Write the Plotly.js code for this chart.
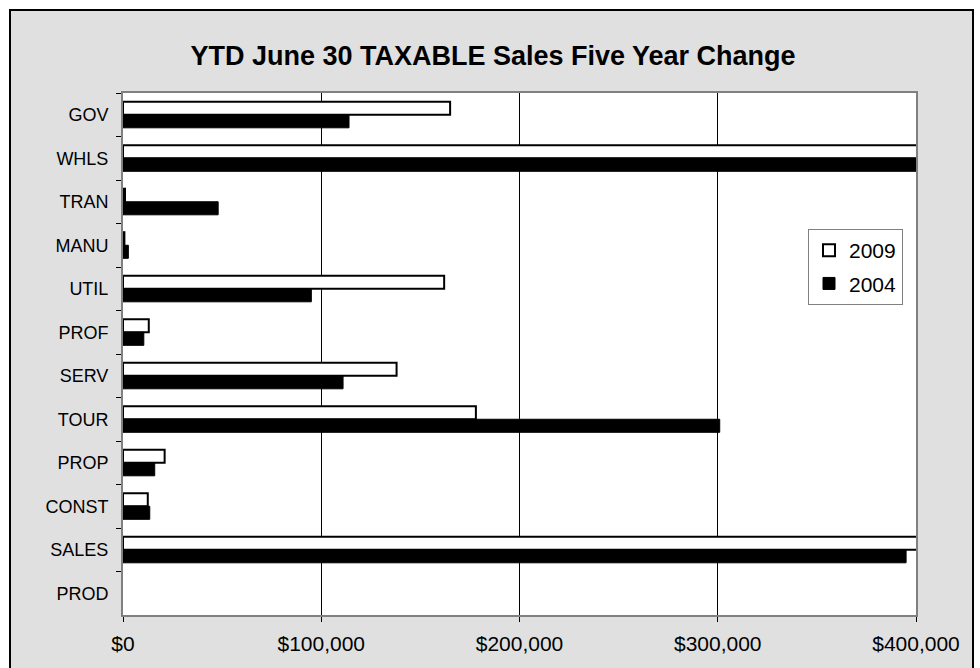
<!DOCTYPE html>
<html><head><meta charset="utf-8">
<script src="https://cdn.plot.ly/plotly-3.0.1.min.js"></script>
<style>
html,body{margin:0;padding:0;background:#fff;overflow:hidden;width:980px;height:668px;}
#frame{position:absolute;left:9px;top:9px;width:961px;height:700px;border:2px solid #000;background:#e0e0e0;}
#chart{position:absolute;left:0;top:0;width:980px;height:668px;}
</style></head><body>
<div id="frame"></div>
<div id="chart"></div>
<script>
const categories = ['GOV','WHLS','TRAN','MANU','UTIL','PROF','SERV','TOUR','PROP','CONST','SALES','PROD'];
const values2009 = [165000, 412000, 1000, 700, 162000, 13000, 138000, 178000, 21000, 12500, 412000, null];
const values2004 = [114000, 410000, 48000, 2700, 95000, 10500, 111000, 301000, 16000, 13500, 395000, null];
const seriesNames = ['2009', '2004'];
const xTickVals = [0, 100000, 200000, 300000, 400000];
const xTickText = ['$0', '$100,000', '$200,000', '$300,000', '$400,000'];
const titleText = 'YTD June 30 TAXABLE Sales Five Year Change';

const FONT = 'Arial, "Liberation Sans", Helvetica, sans-serif';

const traces = [
  {
    type: 'bar', orientation: 'h', name: seriesNames[0], legendgroup: 'a',
    x: values2009, y: categories,
    marker: {color: '#ffffff', line: {color: '#000000', width: 2}},
    hoverinfo: 'skip'
  },
  {
    type: 'bar', orientation: 'h', name: seriesNames[1], legendgroup: 'b',
    x: values2004, y: categories,
    marker: {color: '#000000', line: {color: '#000000', width: 1}},
    hoverinfo: 'skip'
  }
];

const layout = {
  width: 980, height: 668,
  margin: {l: 123, r: 64, t: 93, b: 53, pad: 0},
  paper_bgcolor: 'rgba(0,0,0,0)',
  plot_bgcolor: '#ffffff',
  font: {family: FONT, color: '#000000'},
  title: {
    text: '<b>' + titleText + '</b>',
    font: {family: FONT, size: 27, color: '#000000'},
    xref: 'container', x: 493 / 980, xanchor: 'center',
    yref: 'container', y: 1 - 56 / 668, yanchor: 'middle'
  },
  barmode: 'group', bargap: 0.4, bargroupgap: 0,
  showlegend: true,
  legend: {
    x: (808 - 123) / 793, xanchor: 'left',
    y: 1 - (229 - 93) / 522, yanchor: 'top',
    bgcolor: '#ffffff', bordercolor: '#808080', borderwidth: 1,
    font: {family: FONT, size: 21, color: '#000000'},
    traceorder: 'grouped', tracegroupgap: 3
  },
  xaxis: {
    range: [0, 400000], tickvals: xTickVals, ticktext: xTickText,
    ticks: 'outside', ticklen: 5, tickcolor: '#000000', tickwidth: 1,
    showgrid: true, gridcolor: '#000000', gridwidth: 1,
    zeroline: false,
    showline: true, mirror: true, linecolor: '#808080', linewidth: 2,
    tickfont: {family: FONT, size: 21, color: '#000000'},
    ticklabelstandoff: 4, fixedrange: true
  },
  yaxis: {
    type: 'category', autorange: 'reversed',
    tickson: 'boundaries', ticks: 'outside', ticklen: 5, tickcolor: '#000000', tickwidth: 1,
    showgrid: false, zeroline: false,
    showline: true, mirror: true, linecolor: '#808080', linewidth: 2,
    tickfont: {family: FONT, size: 18, color: '#000000'},
    ticklabelstandoff: 9, fixedrange: true
  }
};

Plotly.newPlot('chart', traces, layout, {displayModeBar: false, staticPlot: true});
</script>
</body></html>
